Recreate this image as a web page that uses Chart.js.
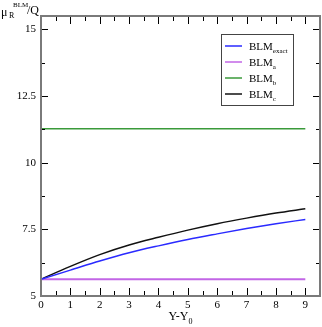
<!DOCTYPE html>
<html>
<head>
<meta charset="utf-8">
<script src="https://cdn.jsdelivr.net/npm/chart.js@4/dist/chart.umd.min.js"></script>
<style>
  html, body { margin: 0; padding: 0; background: #fff; }
  #wrap { width: 322px; height: 327px; }
</style>
</head>
<body>
<div id="wrap"><canvas id="chart" width="322" height="327"></canvas></div>
<script>
// Y - Y0 sample points
const yy0 = [0, 1, 2, 3, 4, 5, 6, 7, 8, 9];
// mu_R^BLM / Q for each scheme
const blmExact = [5.63, 5.97, 6.31, 6.62, 6.88, 7.12, 7.33, 7.53, 7.71, 7.87];
const blmA     = [5.63, 5.63, 5.63, 5.63, 5.63, 5.63, 5.63, 5.63, 5.63, 5.63];
const blmB     = [11.27, 11.27, 11.27, 11.27, 11.27, 11.27, 11.27, 11.27, 11.27, 11.27];
const blmC     = [5.63, 6.11, 6.55, 6.91, 7.2, 7.47, 7.71, 7.92, 8.11, 8.27];

const xTicks = [0, 1, 2, 3, 4, 5, 6, 7, 8, 9];
const yTicks = [5, 7.5, 10, 12.5, 15];

const seriesNames = [['BLM', 'exact'], ['BLM', 'a'], ['BLM', 'b'], ['BLM', 'c']];
const seriesColors = ['#2a2aff', '#c266e6', '#3a9a3a', '#111111'];
const seriesValues = [blmExact, blmA, blmB, blmC];

const SERIF = '"Liberation Serif", "DejaVu Serif", serif';

function toPoints(vals) {
  return yy0.map(function (x, i) { return { x: x, y: vals[i] }; });
}

// frame with inward ticks on all four sides, legend box and axis titles
const framePlugin = {
  id: 'frame',
  afterDraw: function (chart) {
    const c = chart.ctx, a = chart.chartArea;
    const xs = chart.scales.x, ys = chart.scales.y;
    c.save();
    c.strokeStyle = '#000';
    c.lineWidth = 1;
    c.beginPath();
    for (let v = 0; v <= 9.5; v += 0.5) {
      const px = Math.round(xs.getPixelForValue(v)) + 0.5;
      const len = (v % 1 === 0) ? 8 : 5;
      c.moveTo(px, a.bottom); c.lineTo(px, a.bottom - len);
      c.moveTo(px, a.top); c.lineTo(px, a.top + len);
    }
    for (let v = 5; v <= 15.5; v += 1.25) {
      const py = Math.round(ys.getPixelForValue(v)) + 0.5;
      const len = (v % 2.5 === 0) ? 7 : 4;
      c.moveTo(a.left, py); c.lineTo(a.left + len, py);
      c.moveTo(a.right, py); c.lineTo(a.right - len, py);
    }
    c.stroke();
    c.strokeStyle = '#7a7a7a';
    c.lineWidth = 2;
    c.strokeRect(a.left, a.top, a.right - a.left, a.bottom - a.top);

    // legend
    const lx = 221.5, ly = 34.5, lw = 72, lh = 71;
    c.fillStyle = '#fff';
    c.fillRect(lx, ly, lw, lh);
    c.strokeStyle = '#444';
    c.lineWidth = 1;
    c.strokeRect(lx, ly, lw, lh);
    seriesNames.forEach(function (nm, i) {
      const cy = 46 + i * 16;
      c.strokeStyle = seriesColors[i];
      c.lineWidth = 1.5;
      c.beginPath();
      c.moveTo(225, cy); c.lineTo(242, cy);
      c.stroke();
      c.fillStyle = '#000';
      c.textBaseline = 'alphabetic';
      c.font = '11px ' + SERIF;
      c.fillText(nm[0], 249, cy + 4);
      const w = c.measureText(nm[0]).width;
      c.font = '7px ' + SERIF;
      c.fillText(nm[1], 249 + w, cy + 7);
    });

    // axis titles
    c.fillStyle = '#000';
    const t1 = 'Y-Y';
    c.font = '12px ' + SERIF;
    const w1 = c.measureText(t1).width;
    c.font = '8px ' + SERIF;
    const w2 = c.measureText('0').width;
    const x0 = (a.left + a.right) / 2 - (w1 + w2) / 2;
    c.font = '12px ' + SERIF;
    c.fillText(t1, x0, 320);
    c.font = '8px ' + SERIF;
    c.fillText('0', x0 + w1, 324);

    c.font = '12px ' + SERIF;
    c.fillText('\u03bc', 1, 16);
    c.font = '8px ' + SERIF;
    c.fillText('R', 9, 18);
    c.font = '7px ' + SERIF;
    c.fillText('BLM', 13, 7);
    c.font = '12px ' + SERIF;
    c.fillText('/Q', 27, 14);
    c.restore();
  }
};

const ctx = document.getElementById('chart').getContext('2d');
new Chart(ctx, {
  type: 'line',
  data: {
    datasets: seriesValues.map(function (vals, i) {
      return {
        label: seriesNames[i].join(''),
        data: toPoints(vals),
        borderColor: seriesColors[i],
        borderWidth: i === 1 ? 2 : 1.5,
        pointRadius: 0,
        fill: false,
        cubicInterpolationMode: 'monotone'
      };
    })
  },
  options: {
    responsive: false,
    animation: false,
    layout: { padding: { top: 16, right: 2, left: 0, bottom: 0 } },
    plugins: { legend: { display: false }, tooltip: { enabled: false } },
    scales: {
      x: {
        type: 'linear',
        min: 0, max: 9.5,
        grid: { display: false, drawTicks: false },
        border: { display: false },
        afterFit: function (s) { s.height = 31; },
        afterBuildTicks: function (s) { s.ticks = xTicks.map(function (v) { return { value: v }; }); },
        ticks: {
          padding: 3,
          maxRotation: 0,
          color: '#000',
          font: { family: SERIF, size: 11 },
          callback: function (v) { return String(v); }
        }
      },
      y: {
        type: 'linear',
        min: 5, max: 15.5,
        grid: { display: false, drawTicks: false },
        border: { display: false },
        afterFit: function (s) { s.width = 41; },
        afterBuildTicks: function (s) { s.ticks = yTicks.map(function (v) { return { value: v }; }); },
        ticks: {
          padding: 5,
          color: '#000',
          font: { family: SERIF, size: 11 },
          callback: function (v) { return String(v); }
        }
      }
    }
  },
  plugins: [framePlugin]
});
</script>
</body>
</html>
